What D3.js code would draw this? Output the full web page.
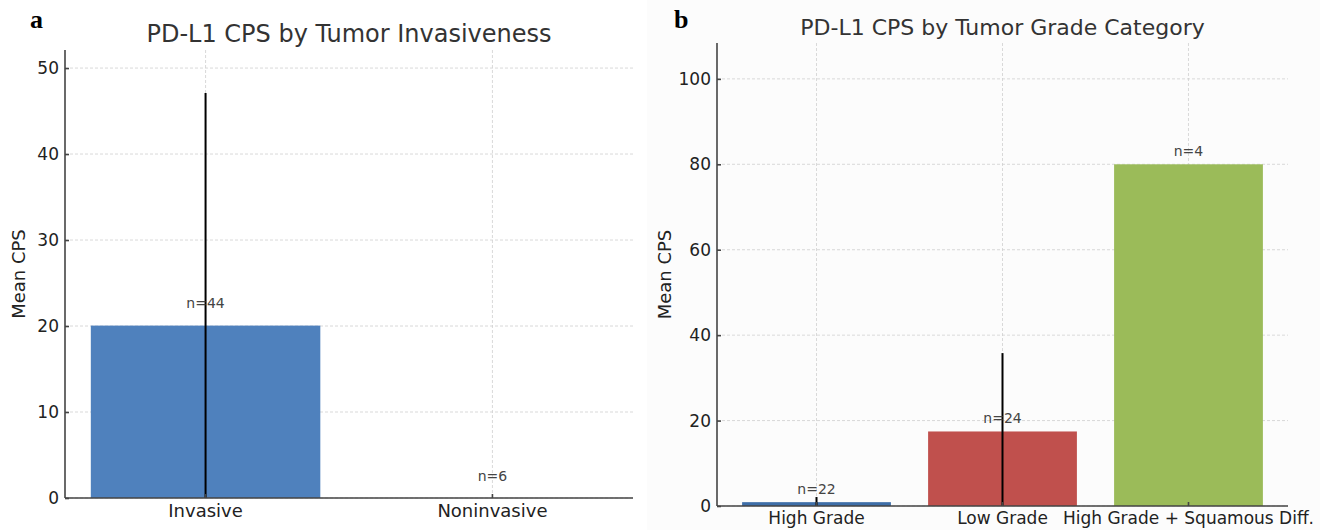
<!DOCTYPE html>
<html>
<head>
<meta charset="utf-8">
<style>
    body { margin: 0; background: #fff; }
    svg { font-family: "DejaVu Sans", sans-serif; }
    .grid line { stroke: #cfcfcf; stroke-width: 0.8; stroke-dasharray: 3,2; }
    .axis path, .axis line { stroke: #444; stroke-width: 1.6; }
    .axis text { fill: #222; font-size: 17px; font-family: "DejaVu Sans", sans-serif; }
</style>
</head>
<body>
<svg width="1320" height="530"></svg>
<script src="https://d3js.org/d3.v7.min.js"></script>
<script>
// panel a: invasiveness
var invCats = ["Invasive", "Noninvasive"];
var invMeans = [20.05, 0];
var invErr = [27.05, 0];
var invN = [44, 6];
var invColors = ["#4f81bd", "#4f81bd"];
var invTicks = [0, 10, 20, 30, 40, 50];

// panel b: grade category
var gradeCats = ["High Grade", "Low Grade", "High Grade + Squamous Diff."];
var gradeMeans = [0.9, 17.45, 80];
var gradeErr = [1.2, 18.35, 0];
var gradeN = [22, 24, 4];
var gradeColors = ["#3e6ea8", "#c0504d", "#9bbb59"];
var gradeTicks = [0, 20, 40, 60, 80, 100];

var svg = d3.select("svg");
svg.append("rect").attr("width", 1320).attr("height", 530).attr("fill", "#fff");

function panel(o) {
    var g = svg.append("g");
    if (o.bg) g.append("rect").attr("x", o.x0 - 70).attr("y", 0).attr("width", 1320 - o.x0 + 70).attr("height", 530).attr("fill", o.bg);

    var x = d3.scaleBand().domain(o.cats).range([o.x0, o.x1]).paddingInner(0.2).paddingOuter(o.po);
    var y = d3.scaleLinear().domain([0, o.ymax]).range([o.y0, o.y1]);

    // grid
    var grid = g.append("g").attr("class", "grid");
    grid.selectAll(".h").data(o.ticks).enter().append("line")
        .attr("x1", o.x0).attr("x2", o.x1)
        .attr("y1", d => y(d)).attr("y2", d => y(d));
    grid.selectAll(".v").data(o.cats).enter().append("line")
        .attr("x1", d => x(d) + x.bandwidth() / 2).attr("x2", d => x(d) + x.bandwidth() / 2)
        .attr("y1", o.y0).attr("y2", o.y1);

    // bars
    g.selectAll(".bar").data(o.cats).enter().append("rect")
        .attr("x", d => x(d))
        .attr("width", x.bandwidth())
        .attr("y", (d, i) => y(o.means[i]))
        .attr("height", (d, i) => o.y0 - y(o.means[i]))
        .attr("fill", (d, i) => o.colors[i]);

    // error bars (clipped at the axis)
    g.selectAll(".err").data(o.cats).enter().append("line")
        .attr("x1", d => x(d) + x.bandwidth() / 2).attr("x2", d => x(d) + x.bandwidth() / 2)
        .attr("y1", (d, i) => y(Math.max(0, o.means[i] - o.err[i])))
        .attr("y2", (d, i) => y(o.means[i] + o.err[i]))
        .attr("stroke", "#000").attr("stroke-width", 2)
        .style("display", (d, i) => o.err[i] > 0 ? null : "none");

    // n labels
    g.selectAll(".n").data(o.cats).enter().append("text")
        .attr("x", d => x(d) + x.bandwidth() / 2)
        .attr("y", (d, i) => y(o.means[i] + 2))
        .attr("text-anchor", "middle")
        .attr("font-size", 14).attr("fill", "#444")
        .text((d, i) => "n=" + o.n[i]);

    // axes, ticks pointing inward
    var ya = g.append("g").attr("class", "axis").attr("transform", "translate(" + o.x0 + ",0)")
        .call(d3.axisLeft(y).tickValues(o.ticks).tickSize(-4).tickSizeOuter(0).tickPadding(6));
    ya.select(".domain").attr("d", "M0," + o.y0 + "V" + o.y1);
    var xa = g.append("g").attr("class", "axis").attr("transform", "translate(0," + o.y0 + ")")
        .call(d3.axisBottom(x).tickSize(-4).tickSizeOuter(0).tickPadding(6));
    xa.select(".domain").attr("d", "M" + o.x0 + ",0H" + o.x1);
    xa.selectAll("text").style("font-size", o.xFont + "px");

    // title, y label, panel letter
    g.append("text").attr("x", (o.x0 + o.x1) / 2).attr("y", o.titleY)
        .attr("text-anchor", "middle").attr("font-size", o.titleFont).attr("fill", "#333")
        .text(o.title);
    g.append("text").attr("transform", "translate(" + o.ylabX + "," + ((o.y0 + o.y1) / 2) + ") rotate(-90)")
        .attr("text-anchor", "middle").attr("font-size", 18).attr("fill", "#222")
        .text("Mean CPS");
    g.append("text").attr("x", o.letterX).attr("y", 28)
        .attr("font-family", "Liberation Serif, serif").attr("font-weight", "bold")
        .attr("font-size", 26).attr("fill", "#000")
        .text(o.letter);
}

panel({
    cats: invCats, means: invMeans, err: invErr, n: invN, colors: invColors, ticks: invTicks,
    x0: 65, x1: 633, y0: 498, y1: 50, ymax: 52.1, po: 0.09,
    title: "PD-L1 CPS by Tumor Invasiveness", titleY: 42, titleFont: 24, xFont: 18,
    ylabX: 25, letter: "a", letterX: 30
});
panel({
    cats: gradeCats, means: gradeMeans, err: gradeErr, n: gradeN, colors: gradeColors, ticks: gradeTicks,
    x0: 717, x1: 1288, y0: 506, y1: 43, ymax: 108.4, po: 0.135, bg: "#fcfcfc",
    title: "PD-L1 CPS by Tumor Grade Category", titleY: 35, titleFont: 22, xFont: 17,
    ylabX: 671, letter: "b", letterX: 674
});
</script>
</body>
</html>
